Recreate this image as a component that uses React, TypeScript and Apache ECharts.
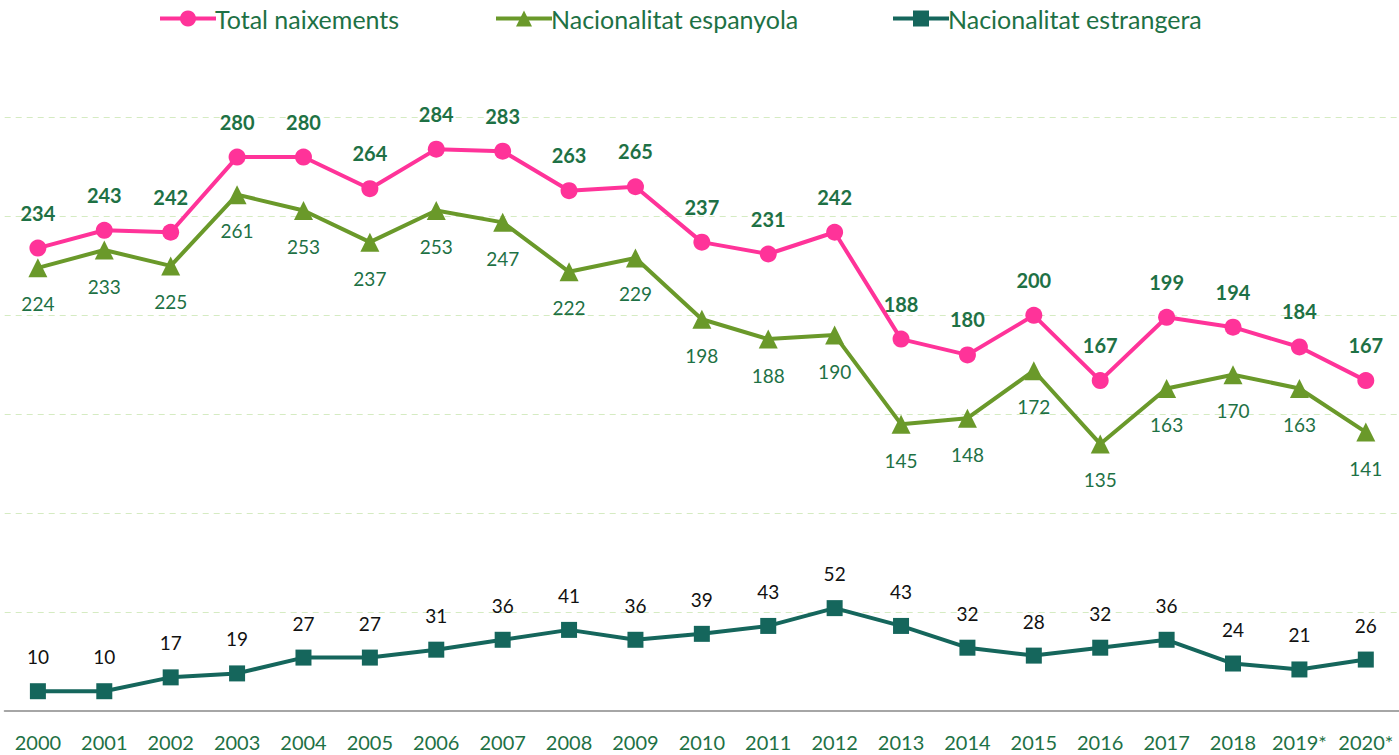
import React, { useEffect, useRef } from "react";
import * as echarts from "echarts";

const years = ["2000","2001","2002","2003","2004","2005","2006","2007","2008","2009","2010","2011","2012","2013","2014","2015","2016","2017","2018","2019*","2020*"];
const totalBirths = [234,243,242,280,280,264,284,283,263,265,237,231,242,188,180,200,167,199,194,184,167];
const spanish = [224,233,225,261,253,237,253,247,222,229,198,188,190,145,148,172,135,163,170,163,141];
const foreign = [10,10,17,19,27,27,31,36,41,36,39,43,52,43,32,28,32,36,24,21,26];

const seriesNames = ["Total naixements", "Nacionalitat espanyola", "Nacionalitat estrangera"];
const FONT = "Lato, 'Open Sans', sans-serif";
const PINK = "#FF3399";
const OLIVE = "#6A992A";
const TEAL = "#15665C";
const TEXTGREEN = "#1E7145";

export default function App() {
  const ref = useRef<HTMLDivElement>(null);
  useEffect(() => {
    if (!ref.current) return;
    const chart = echarts.init(ref.current, null, { renderer: "svg" });
    const legendBase = {
      top: 1,
      itemWidth: 56,
      itemHeight: 20,
      lineStyle: { width: 4 },
      textStyle: { color: TEXTGREEN, fontSize: 25, fontFamily: FONT, padding: [0, 0, 0, -6] },
    };
    chart.setOption({
      animation: false,
      legend: [
        { ...legendBase, left: 153, data: [seriesNames[0]] },
        { ...legendBase, left: 489, data: [seriesNames[1]] },
        { ...legendBase, left: 886, data: [seriesNames[2]] },
      ],
      grid: { left: 4.7, width: 1397.6, top: 117.5, bottom: 44, containLabel: false },
      xAxis: {
        type: "category",
        data: years,
        boundaryGap: true,
        axisLine: { show: true, lineStyle: { color: "#A6A6A6", width: 2 } },
        axisTick: { show: false },
        axisLabel: { color: TEXTGREEN, fontSize: 20, fontFamily: FONT, margin: 21, interval: 0 },
      },
      yAxis: {
        type: "value",
        min: 0,
        max: 300,
        interval: 50,
        axisLine: { show: false },
        axisTick: { show: false },
        axisLabel: { show: false },
        splitLine: { show: true, lineStyle: { color: "#D5EBC2", type: [6, 5], width: 1 } },
      },
      series: [
        {
          name: seriesNames[0],
          type: "line",
          data: totalBirths,
          symbol: "circle",
          symbolSize: 17,
          lineStyle: { color: PINK, width: 4 },
          itemStyle: { color: PINK },
          label: {
            show: true,
            position: "top",
            distance: 17,
            color: TEXTGREEN,
            fontWeight: "bold",
            fontSize: 20,
            fontFamily: FONT,
          },
          z: 3,
        },
        {
          name: seriesNames[1],
          type: "line",
          data: spanish,
          symbol: "triangle",
          symbolSize: 19,
          lineStyle: { color: OLIVE, width: 4 },
          itemStyle: { color: OLIVE },
          label: {
            show: true,
            position: "bottom",
            distance: 17,
            color: TEXTGREEN,
            fontSize: 19,
            fontFamily: FONT,
          },
          z: 2,
        },
        {
          name: seriesNames[2],
          type: "line",
          data: foreign,
          symbol: "rect",
          symbolSize: 16,
          lineStyle: { color: TEAL, width: 4 },
          itemStyle: { color: TEAL },
          label: {
            show: true,
            position: "top",
            distance: 17,
            color: "#111111",
            fontSize: 19,
            fontFamily: FONT,
          },
          z: 2,
        },
      ],
    });
    return () => chart.dispose();
  }, []);
  return (
    <div
      ref={ref}
      style={{ position: "absolute", left: 0, top: 0, width: 1399, height: 755, background: "#ffffff" }}
    />
  );
}
